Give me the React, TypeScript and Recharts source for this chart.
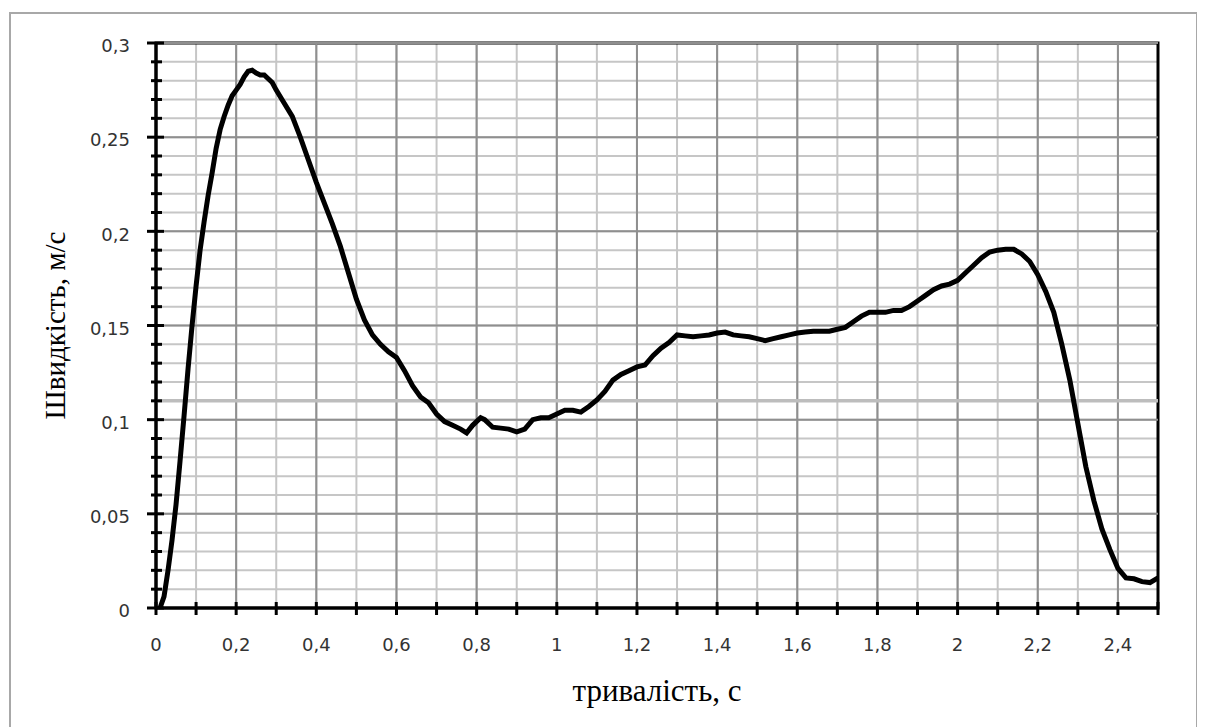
import { CartesianGrid, Label, Line, LineChart, ReferenceArea, ReferenceLine, XAxis, YAxis } from "recharts"

// тривалість, с
const time = [
  0.01, 0.02, 0.03, 0.04, 0.05, 0.06, 0.07, 0.08, 0.09, 0.1,
  0.11, 0.12, 0.13, 0.14, 0.15, 0.16, 0.17, 0.18, 0.19, 0.2,
  0.21, 0.22, 0.23, 0.24, 0.25, 0.26, 0.27, 0.28, 0.29, 0.3,
  0.32, 0.34, 0.36, 0.38, 0.4, 0.42, 0.44, 0.46, 0.48, 0.5,
  0.52, 0.54, 0.56, 0.58, 0.6, 0.62, 0.64, 0.66, 0.68, 0.7,
  0.72, 0.74, 0.76, 0.775, 0.79, 0.81, 0.82, 0.84, 0.86, 0.88,
  0.9, 0.92, 0.94, 0.96, 0.98, 1, 1.02, 1.04, 1.06, 1.08,
  1.1, 1.12, 1.14, 1.16, 1.18, 1.2, 1.22, 1.24, 1.26, 1.28,
  1.3, 1.32, 1.34, 1.36, 1.38, 1.4, 1.42, 1.44, 1.46, 1.48,
  1.5, 1.52, 1.54, 1.56, 1.58, 1.6, 1.62, 1.64, 1.66, 1.68,
  1.7, 1.72, 1.74, 1.76, 1.78, 1.8, 1.82, 1.84, 1.86, 1.88,
  1.9, 1.92, 1.94, 1.96, 1.98, 2, 2.02, 2.04, 2.06, 2.08,
  2.1, 2.12, 2.14, 2.16, 2.18, 2.2, 2.22, 2.24, 2.26, 2.28,
  2.3, 2.32, 2.34, 2.36, 2.38, 2.4, 2.42, 2.44, 2.46, 2.48,
  2.5,
]

// Швидкість, м/с
const speed = [
  0, 0.006, 0.02, 0.036, 0.055, 0.078, 0.102, 0.127, 0.15, 0.171,
  0.19, 0.205, 0.219, 0.231, 0.244, 0.254, 0.261, 0.267, 0.272, 0.275,
  0.278, 0.282, 0.285, 0.2855, 0.284, 0.283, 0.283, 0.281, 0.279, 0.275,
  0.268, 0.261, 0.25, 0.238, 0.226, 0.215, 0.204, 0.192, 0.178, 0.164,
  0.153, 0.145, 0.14, 0.136, 0.133, 0.126, 0.118, 0.112, 0.109, 0.103,
  0.099, 0.097, 0.095, 0.093, 0.097, 0.101, 0.1, 0.096, 0.0955, 0.095,
  0.0935, 0.095, 0.1, 0.101, 0.101, 0.103, 0.105, 0.105, 0.104, 0.107,
  0.1105, 0.115, 0.121, 0.124, 0.126, 0.128, 0.129, 0.134, 0.138, 0.141,
  0.145, 0.1445, 0.144, 0.1445, 0.145, 0.146, 0.1465, 0.145, 0.1445, 0.144,
  0.143, 0.142, 0.143, 0.144, 0.145, 0.146, 0.1465, 0.147, 0.147, 0.147,
  0.148, 0.149, 0.152, 0.155, 0.157, 0.157, 0.157, 0.158, 0.158, 0.16,
  0.163, 0.166, 0.169, 0.171, 0.172, 0.174, 0.178, 0.182, 0.186, 0.189,
  0.19, 0.1905, 0.1905, 0.188, 0.184, 0.177, 0.168, 0.157, 0.14, 0.121,
  0.098, 0.075, 0.057, 0.042, 0.031, 0.021, 0.016, 0.0155, 0.014, 0.0135,
  0.016,
]

const xTicks = [
  0, 0.1, 0.2, 0.3, 0.4, 0.5, 0.6, 0.7, 0.8, 0.9, 1, 1.1, 1.2,
  1.3, 1.4, 1.5, 1.6, 1.7, 1.8, 1.9, 2, 2.1, 2.2, 2.3, 2.4, 2.5,
]
const xLabelTicks = [0, 0.2, 0.4, 0.6, 0.8, 1, 1.2, 1.4, 1.6, 1.8, 2, 2.2, 2.4]

const yTicks = [
  0, 0.01, 0.02, 0.03, 0.04, 0.05, 0.06, 0.07, 0.08, 0.09, 0.1,
  0.11, 0.12, 0.13, 0.14, 0.15, 0.16, 0.17, 0.18, 0.19, 0.2,
  0.21, 0.22, 0.23, 0.24, 0.25, 0.26, 0.27, 0.28, 0.29, 0.3,
]
const yLabelTicks = [0, 0.05, 0.1, 0.15, 0.2, 0.25, 0.3]

const markLevel = 0.11

const data = time.map((t, i) => ({ t, v: speed[i] }))

const has = (list: number[], v: number) => list.some((m) => Math.abs(m - v) < 1e-9)
const fmt = (v: number) => String(v).replace(".", ",")

const tickFont = { fontFamily: "'DejaVu Sans', sans-serif", fontSize: 18, fill: "#333" }

function XTick(props: any) {
  const { x, y, payload } = props
  const major = has(xLabelTicks, payload.value)
  return (
    <g>
      <line x1={x} x2={x} y1={y - 6} y2={y + 7} stroke="#000" strokeWidth={3} />
      {major && (
        <text x={x} y={y + 37} dy="0.35em" textAnchor="middle" {...tickFont}>
          {fmt(payload.value)}
        </text>
      )}
    </g>
  )
}

function YTick(props: any) {
  const { x, y, payload } = props
  const major = has(yLabelTicks, payload.value)
  return (
    <g>
      <line
        x1={major ? x - 9 : x - 5}
        x2={major ? x + 8 : x + 6}
        y1={y}
        y2={y}
        stroke="#000"
        strokeWidth={3}
      />
      {major && (
        <text x={x - 26} y={y + 3} dy="0.35em" textAnchor="end" {...tickFont}>
          {fmt(payload.value)}
        </text>
      )}
    </g>
  )
}

const serif = "'Liberation Serif', 'Times New Roman', serif"

export default function App() {
  return (
    <div style={{ position: "relative", width: 1189, height: 719 }}>
      <div
        style={{
          position: "absolute",
          left: 1,
          top: 4,
          width: 1189,
          height: 740,
          border: "2px solid #a8a8a8",
          boxSizing: "border-box",
        }}
      />
      <LineChart
        width={1189}
        height={719}
        data={data}
        margin={{ top: 35, right: 39, left: 48, bottom: 59 }}
        style={{ position: "absolute", left: 0, top: 0 }}
      >
        <CartesianGrid stroke="#c6c6c6" strokeWidth={2} />
        {xLabelTicks.map((v) => (
          <ReferenceLine key={`gx-${v}`} x={v} stroke="#8f8f8f" strokeWidth={2} />
        ))}
        {yLabelTicks.map((v) => (
          <ReferenceLine key={`gy-${v}`} y={v} stroke="#8f8f8f" strokeWidth={2} />
        ))}
        <ReferenceLine y={markLevel} stroke="#bdbdbd" strokeWidth={3.5} />
        <XAxis
          dataKey="t"
          type="number"
          domain={[0, 2.5]}
          ticks={xTicks}
          interval={0}
          height={60}
          tickSize={0}
          tickMargin={0}
          tickLine={false}
          axisLine={{ stroke: "#000", strokeWidth: 3 }}
          tick={<XTick />}
        >
          <Label
            value="тривалість, с"
            position="center"
            dy={52}
            fontFamily={serif}
            fontSize={31}
            fill="#000"
          />
        </XAxis>
        <YAxis
          type="number"
          domain={[0, 0.3]}
          ticks={yTicks}
          interval={0}
          width={100}
          tickSize={0}
          tickMargin={0}
          tickLine={false}
          axisLine={{ stroke: "#000", strokeWidth: 3 }}
          tick={<YTick />}
        >
          <Label
            value="Швидкість, м/с"
            position="center"
            angle={-90}
            dx={-51}
            fontFamily={serif}
            fontSize={29}
            fill="#000"
          />
        </YAxis>
        <ReferenceArea x1={0} x2={2.5} y1={0} y2={0.3} fill="none" stroke="#000" strokeWidth={3} ifOverflow="visible" />
        <Line
          type="linear"
          dataKey="v"
          stroke="#000"
          strokeWidth={5}
          dot={false}
          isAnimationActive={false}
        />
      </LineChart>
    </div>
  )
}
